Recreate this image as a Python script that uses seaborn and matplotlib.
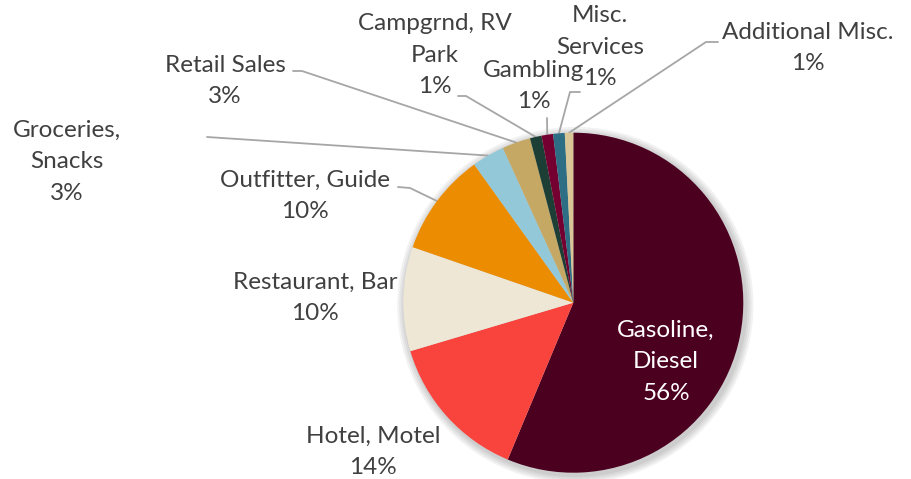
import matplotlib
matplotlib.use("Agg")
import matplotlib.pyplot as plt
import seaborn as sns
import numpy as np
from matplotlib.patches import Circle

# ---- data ----
categories = ["Gasoline, Diesel", "Hotel, Motel", "Restaurant, Bar", "Outfitter, Guide",
              "Groceries, Snacks", "Retail Sales", "Campgrnd, RV Park", "Gambling",
              "Misc. Services", "Additional Misc."]
values = [56.3, 14.1, 9.9, 9.8, 3.1, 2.7, 1.1, 1.1, 1.1, 0.8]
label_names = ["Gasoline,\nDiesel", "Hotel, Motel", "Restaurant, Bar", "Outfitter, Guide",
               "Groceries,\nSnacks", "Retail Sales", "Campgrnd, RV\nPark", "Gambling",
               "Misc.\nServices", "Additional Misc."]
colors = ["#4B0020", "#F9443E", "#EEE7D6", "#EC8C00", "#92C8D8",
          "#C5A864", "#1C3E35", "#730030", "#2E6E85", "#D9C596"]

sns.set_theme(style="white")
plt.rcParams['font.family'] = ['Lato', 'DejaVu Sans']

W, H = 911, 479
fig = plt.figure(figsize=(W / 100, H / 100), dpi=100)
ax = fig.add_axes([0, 0, 1, 1])
CX, CY, R = 573.3, 302.7, 170.0

def px(x, y):
    return ((x - CX) / R, (CY - y) / R)

# soft shadow
for i, a in enumerate([0.05, 0.05, 0.05, 0.05]):
    ax.add_patch(Circle((0.012, -0.014), 1.0 + 0.012 * (4 - i), color="black",
                        alpha=a, lw=0, zorder=0))

wedges, _ = ax.pie(values, colors=sns.color_palette(colors), startangle=90,
                   counterclock=False, radius=1.0, center=(0, 0), frame=True,
                   wedgeprops=dict(linewidth=0, zorder=2))
ax.set_xlim(-CX / R, (W - CX) / R)
ax.set_ylim(-(H - CY) / R, CY / R)
ax.set_aspect("equal")
ax.axis("off")

pct = [f"{v:.0f}%" for v in values]
texts = [f"{n}\n{p}" for n, p in zip(label_names, pct)]

# label centre positions (pixels)
label_pos = [(666, 362), (373, 452), (315, 298), (305, 196), (67, 162),
             (225, 81), (435, 55), (534, 86), (600, 47), (808, 48)]
fs = 17.5
txtcol = "#404040"
for i, (t, (lx, ly)) in enumerate(zip(texts, label_pos)):
    c = "white" if i == 0 else txtcol
    ax.text(*px(lx, ly), t, ha="center", va="center", fontsize=fs, color=c,
            linespacing=1.62, zorder=5)

# leader lines: (start pixel, elbow pixel) -> wedge edge
leaders = {
    3: [(398, 187), (410, 188)],
    4: [(207, 137), (207, 137)],
    5: [(293, 71), (302, 71)],
    6: [(458, 96), (466, 96)],
    7: [(547, 118), (547, 118)],
    8: [(580, 92), (570, 92)],
    9: [(718, 42), (706, 42)],
}
for i, pts in leaders.items():
    w = wedges[i]
    mid = np.deg2rad((w.theta1 + w.theta2) / 2)
    ex, ey = np.cos(mid) * 1.0, np.sin(mid) * 1.0
    xs = [px(*p)[0] for p in pts] + [ex]
    ys = [px(*p)[1] for p in pts] + [ey]
    ax.plot(xs, ys, color="#A6A6A6", lw=1.3, zorder=1)

fig.savefig("out.png", dpi=100)
